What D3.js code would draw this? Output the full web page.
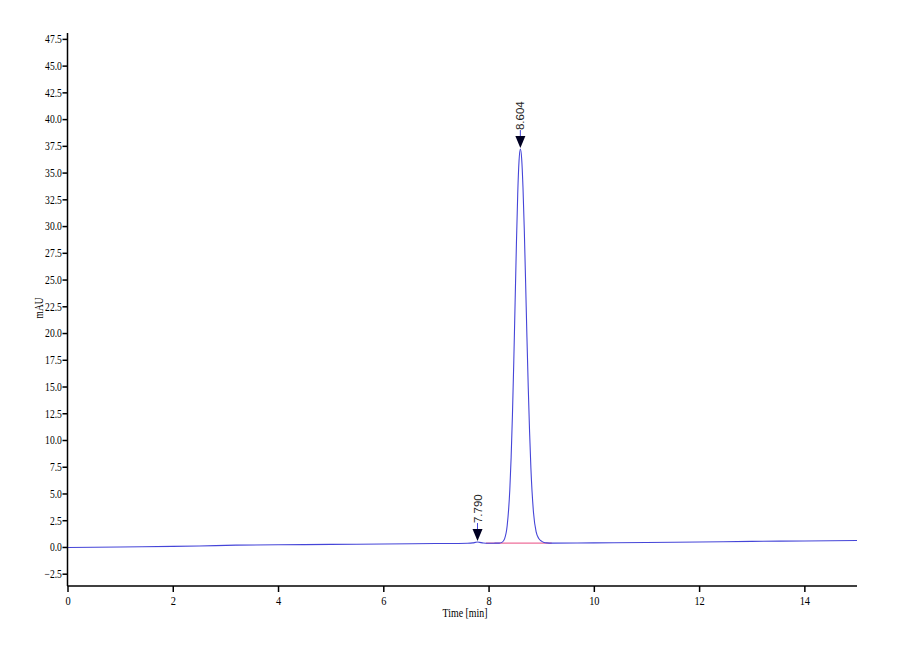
<!DOCTYPE html>
<html>
<head>
<meta charset="utf-8">
<script src="https://cdn.jsdelivr.net/npm/d3@7"></script>
<style>
  body { margin: 0; background: #fff; }
  svg { display: block; }
  .axis path, .axis line { stroke: #000; stroke-width: 1.5; }
  .axis text { font-family: "Liberation Serif", "Times New Roman", serif; fill: #000; }
</style>
</head>
<body>
<div id="chart"></div>
<script>
// retention time (min) and detector signal (mAU)
var times = [0, 1, 2, 2.5, 3.2, 4, 5, 6, 7, 7.6, 7.7, 7.75, 7.79, 7.83, 7.9, 8.0, 8.1, 8.15,
  8.204, 8.254, 8.304, 8.354, 8.404, 8.429, 8.454, 8.479, 8.504, 8.529, 8.554, 8.579, 8.604,
  8.629, 8.654, 8.679, 8.704, 8.729, 8.754, 8.779, 8.804, 8.854, 8.904, 8.954, 9.004, 9.054, 9.104,
  9.2, 10, 11, 12, 13, 14, 15];
var signal = [-0.05, 0.0, 0.05, 0.09, 0.17, 0.2, 0.24, 0.28, 0.32, 0.35, 0.38, 0.43, 0.46, 0.43, 0.37, 0.35, 0.35, 0.36,
  0.36, 0.43, 0.76, 2.0, 5.4, 8.4, 12.4, 17.3, 22.8, 28.3, 33.0, 36.1, 37.2,
  36.3, 33.6, 29.6, 24.7, 19.6, 14.9, 10.8, 7.4, 3.2, 1.4, 0.8, 0.55, 0.42, 0.38,
  0.36, 0.38, 0.42, 0.47, 0.52, 0.56, 0.6];

// integration baseline under the main peak
var baseTimes = [7.95, 9.2];
var baseSignal = [0.35, 0.36];

// peak markers
var peakTimes = [7.79, 8.604];
var peakLabels = ["7.790", "8.604"];

var xTicks = [0, 2, 4, 6, 8, 10, 12, 14];
var yTicks = [-2.5, 0, 2.5, 5, 7.5, 10, 12.5, 15, 17.5, 20, 22.5, 25, 27.5, 30, 32.5, 35, 37.5, 40, 42.5, 45, 47.5];

var width = 900, height = 660;
var squeeze = 0.8; // text in the original is narrow

var x = d3.scaleLinear().domain([0, 15]).range([67.5, 857]);
var y = d3.scaleLinear().domain([-3.65, 48.05]).range([586, 33]);

var svg = d3.select("#chart").append("svg")
  .attr("width", width)
  .attr("height", height);

var pts = times.map(function(t, i) { return [t, signal[i]]; });
var basePts = baseTimes.map(function(t, i) { return [t, baseSignal[i]]; });

var line = d3.line()
  .x(function(d) { return x(d[0]); })
  .y(function(d) { return y(d[1]); });

svg.append("path")
  .attr("d", line(basePts))
  .attr("fill", "none")
  .attr("stroke", "#ee6e9a")
  .attr("stroke-width", 1.2);

svg.append("path")
  .attr("d", line.curve(d3.curveMonotoneX)(pts))
  .attr("fill", "none")
  .attr("stroke", "#4545d8")
  .attr("stroke-width", 1.1);

// axes
var yAxis = svg.append("g")
  .attr("class", "axis")
  .attr("transform", "translate(" + x(0) + ",0)")
  .call(d3.axisLeft(y).tickValues(yTicks).tickFormat(d3.format(".1f")).tickSize(5).tickPadding(2));
yAxis.select(".domain").attr("d", "M0," + y.range()[0] + "V" + y.range()[1]);
yAxis.selectAll("text")
  .attr("font-size", 12)
  .attr("transform", "scale(" + squeeze + ",1)");

var xAxis = svg.append("g")
  .attr("class", "axis")
  .attr("transform", "translate(0," + y.range()[0] + ")")
  .call(d3.axisBottom(x).tickValues(xTicks).tickFormat(d3.format("d")).tickSize(6).tickPadding(4));
xAxis.select(".domain").attr("d", "M" + x.range()[0] + ",0H" + x.range()[1]);
xAxis.selectAll("text")
  .attr("font-size", 13)
  .attr("transform", "scale(" + squeeze + ",1)");

// axis titles
svg.append("g")
  .attr("transform", "translate(43,308) rotate(-90)")
  .append("text")
  .attr("text-anchor", "middle")
  .attr("font-family", "Liberation Serif, Times New Roman, serif")
  .attr("font-size", 12)
  .attr("transform", "scale(0.78,1)")
  .text("mAU");

svg.append("g")
  .attr("transform", "translate(465,617)")
  .append("text")
  .attr("text-anchor", "middle")
  .attr("font-family", "Liberation Serif, Times New Roman, serif")
  .attr("font-size", 13)
  .attr("transform", "scale(0.76,1)")
  .text("Time [min]");

// peak markers: triangle, short stem and rotated retention time
var marks = svg.selectAll("g.peak")
  .data(peakTimes)
  .enter().append("g")
  .attr("class", "peak")
  .attr("transform", function(t) {
    var v = signal[times.indexOf(t)];
    return "translate(" + x(t) + "," + (y(v) - 1) + ")";
  });

marks.append("path")
  .attr("d", "M0,0L-5,-12L5,-12Z")
  .attr("fill", "#000022");

marks.append("line")
  .attr("x1", 0).attr("x2", 0)
  .attr("y1", -12).attr("y2", -18)
  .attr("stroke", "#4545d8")
  .attr("stroke-width", 1);

marks.append("text")
  .attr("transform", "translate(0,-18) rotate(-90)")
  .attr("dy", "0.36em")
  .attr("font-family", "Liberation Sans, Arial, sans-serif")
  .attr("font-size", 11.5)
  .attr("fill", "#222")
  .text(function(t, i) { return peakLabels[i]; });
</script>
</body>
</html>
